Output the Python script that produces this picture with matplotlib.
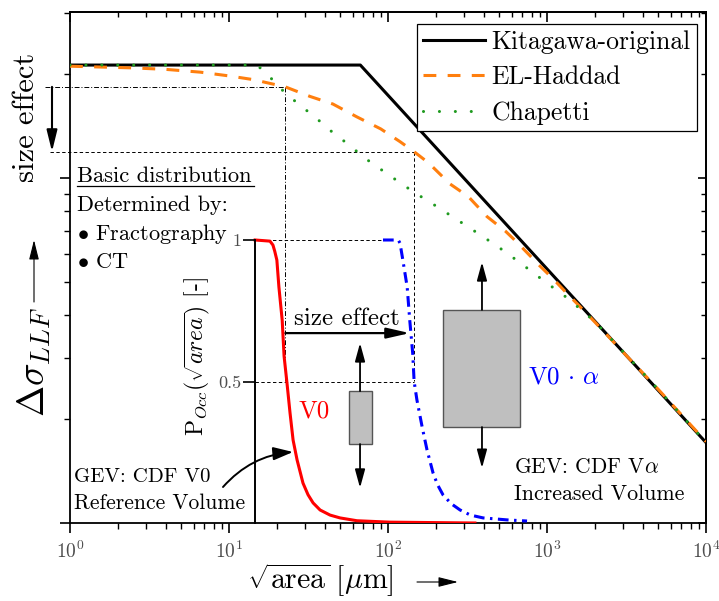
import matplotlib
matplotlib.use('Agg')
import matplotlib.pyplot as plt
from matplotlib.patches import Rectangle
from matplotlib.lines import Line2D
from matplotlib.ticker import NullFormatter

plt.rcParams['font.family'] = ['cmr10', 'DejaVu Serif']
plt.rcParams['mathtext.fontset'] = 'cm'
plt.rcParams['axes.formatter.use_mathtext'] = True
plt.rcParams['axes.unicode_minus'] = False

# Kitagawa-Takahashi diagram
x_kita = [1, 67, 10000]
y_kita = [2120, 2120, 171]

x_elh = [1, 2.5, 4, 6.6, 10, 14.2, 22.6, 32.3, 45, 63.8, 90, 119, 145, 180, 245, 320, 419,
         550, 648, 903, 1100, 1355, 1600, 2000, 3000, 5000, 10000]
y_elh = [2104, 2080, 2060, 2022, 1972, 1924, 1833, 1720, 1635, 1500, 1385, 1272, 1192, 1104,
         960, 882, 772, 699, 650, 555, 508, 459, 425, 382, 313, 244, 172]

x_chap = [1, 15, 17.6, 20.9, 24.2, 28.8, 34.7, 40.7, 48.5, 59.4, 66.7, 98.6, 144, 203, 284,
          396, 544, 728, 971, 1355, 2000, 3000, 5000, 10000]
y_chap = [2120, 2120, 1985, 1820, 1714, 1603, 1501, 1404, 1314, 1229, 1166, 1027, 911, 825, 746,
          675, 611, 553, 500, 447, 383, 314, 244, 171]

# probability of occurrence, reference volume V0 and increased volume V0*alpha
x_v0 = [14.6, 18.1, 18.9, 19.4, 20.0, 20.6, 21.6, 22.2, 23.2, 24.2, 25.3, 26.8, 29.2, 31.4,
        33.8, 37.4, 43.2, 49.9, 63.8, 103, 352]
p_v0 = [1, 0.996, 0.982, 0.96, 0.929, 0.834, 0.717, 0.59, 0.49, 0.389, 0.293, 0.223, 0.141,
        0.10, 0.071, 0.046, 0.028, 0.018, 0.008, 0.003, 0.0]

x_va = [93, 116, 119, 124, 132, 137, 143, 146, 152, 164, 176, 192, 205, 222, 250, 284, 330,
        396, 560, 749]
p_va = [1, 1, 0.989, 0.929, 0.834, 0.717, 0.60, 0.50, 0.435, 0.339, 0.258, 0.177, 0.135,
        0.099, 0.068, 0.046, 0.028, 0.018, 0.011, 0.007]

# schematic box plots: [left, centre, right], [whisker low, q1, q3, whisker high]
box_x = [[56.8, 66.7, 79.3], [222, 390, 677]]
box_p = [[0.124, 0.279, 0.466, 0.636], [0.194, 0.339, 0.753, 0.922]]

# reference points on the EL-Haddad curve (V0 and V0*alpha)
guide_x = [22.6, 145]
guide_y = [1833, 1190]
size_effect_p = 0.671

W, H = 719, 601


def fp(x, y):
    return x / W, 1 - y / H


fig = plt.figure(figsize=(7.19, 6.01), dpi=100)
ax = fig.add_axes([70 / W, 1 - 523 / H, 636 / W, 511 / H])
ax.set_xscale('log')
ax.set_yscale('log')
ax.set_xlim(1, 1e4)
ax.set_ylim(100, 3020)

l_kita, = ax.plot(x_kita, y_kita, color='k', lw=2.2, zorder=3)
l_elh, = ax.plot(x_elh, y_elh, color='#ff7f0e', lw=2.2, dashes=(4.2, 3.7), zorder=4)
l_chap, = ax.plot(x_chap, y_chap, color='#1f9a1f', lw=2.2, dashes=(0.01, 5.2),
                  dash_capstyle='round', zorder=5)

ax.legend([l_kita, l_elh, l_chap], ['Kitagawa-original', 'EL-Haddad', 'Chapetti'],
          loc='upper right', bbox_to_anchor=(0.986, 0.9765), borderaxespad=0,
          fontsize=18.5, handlelength=2.4, handletextpad=0.25, labelspacing=0.45,
          borderpad=0.25, fancybox=False, framealpha=1, edgecolor='k')
ax.get_legend().get_frame().set_linewidth(0.9)

for s in ax.spines.values():
    s.set_linewidth(1.3)
ax.tick_params(which='major', length=7, width=1.2, direction='out', labelsize=14,
               pad=6, labelcolor='0.3')
ax.tick_params(which='minor', length=4.5, width=1.0, direction='out')
ax.yaxis.set_major_formatter(NullFormatter())
ax.yaxis.set_minor_formatter(NullFormatter())

secx = ax.secondary_xaxis('top')
secx.tick_params(which='major', direction='in', length=7, width=1.2, labeltop=False)
secx.tick_params(which='minor', direction='in', length=3.5, width=1.0)
secy = ax.secondary_yaxis('right')
secy.tick_params(which='major', direction='in', length=6, width=1.2, labelright=False)
secy.tick_params(which='minor', direction='in', length=3.5, width=1.0)
for sa in (secx, secy):
    for s in sa.spines.values():
        s.set_linewidth(1.3)

# overlay axes for the probability curves
ax2 = fig.add_axes(ax.get_position().bounds, sharex=ax, label='cdf')
ax2.set_ylim(0, 511 / 283)
ax2.set_axis_off()

ax2.plot(x_v0, p_v0, color='red', lw=2.2, zorder=4)
ax2.plot(x_va, p_va, color='blue', lw=2.2, dashes=(3.5, 1.8, 0.8, 1.8), zorder=4)

guide_kw = dict(color='k', lw=0.7, zorder=1)
ax2.plot([x_v0[0], x_va[0]], [1, 1], dashes=(3.5, 2.5), **guide_kw)
ax2.plot([x_v0[0], guide_x[1]], [0.5, 0.5], dashes=(3.5, 2.5), **guide_kw)


def p_to_y(p):
    return ax.transData.inverted().transform(ax2.transData.transform((1, p)))[1]


def fx_to_x(f):
    return ax.transData.inverted().transform(ax.transAxes.transform((f, 0)))[0]


y_half = p_to_y(0.5)
ax.plot([fx_to_x(-25 / 636), guide_x[0]], [guide_y[0]] * 2, dashes=(5, 2, 1, 2),
        clip_on=False, **guide_kw)
ax.plot([guide_x[0]] * 2, [guide_y[0], y_half], dashes=(5, 2, 1, 2), **guide_kw)
ax.plot([fx_to_x(-20 / 636), guide_x[1]], [guide_y[1]] * 2, dashes=(3.5, 2.5),
        clip_on=False, **guide_kw)
ax.plot([guide_x[1]] * 2, [guide_y[1], y_half], dashes=(3.5, 2.5), **guide_kw)

x_arr = fx_to_x(-18 / 636)
ax.annotate('', xy=(x_arr, guide_y[1]), xytext=(x_arr, guide_y[0]), annotation_clip=False,
            arrowprops=dict(arrowstyle='-|>,head_length=0.65,head_width=0.16', color='k',
                            lw=1.5, mutation_scale=20, shrinkA=0, shrinkB=0))

# box plots
for bx, bp in zip(box_x, box_p):
    ax2.add_patch(Rectangle((bx[0], bp[1]), bx[2] - bx[0], bp[2] - bp[1],
                            facecolor='#bfbfbf', edgecolor='#555555', lw=1, zorder=3))
    for a, b in [(bp[2], bp[3]), (bp[1], bp[0])]:
        ax2.annotate('', xy=(bx[1], b), xytext=(bx[1], a),
                     arrowprops=dict(arrowstyle='-|>,head_length=0.55,head_width=0.15',
                                     color='k', lw=1.3, mutation_scale=20,
                                     shrinkA=0, shrinkB=0))

# size effect arrow between the two distributions
ax2.annotate('', xy=(137, size_effect_p), xytext=(guide_x[0], size_effect_p),
             arrowprops=dict(arrowstyle='-|>,head_length=0.7,head_width=0.16', color='k',
                             lw=1.6, mutation_scale=20, shrinkA=0, shrinkB=0))

# probability axis
ax3 = fig.add_axes([255 / W, 1 - 523 / H, 0.0001, 283 / H], label='paxis')
ax3.set_ylim(0, 1)
ax3.patch.set_visible(False)
for k in ['top', 'right', 'bottom']:
    ax3.spines[k].set_visible(False)
ax3.spines['left'].set_linewidth(1.4)
ax3.set_xticks([])
ax3.set_yticks([0.5, 1], ['0.5', '1'])
ax3.tick_params(axis='y', length=9, width=1.2, direction='out', labelsize=13, pad=1,
                labelcolor='0.3')

# texts
fig.text(*fp(26, 117), 'size effect', rotation=90, ha='center', va='center', fontsize=22)
fig.text(*fp(34, 362), r'$\Delta\sigma_{LLF}$', rotation=90, ha='center', va='center',
         fontsize=27)
fig.text(*fp(320, 589), r'$\sqrt{\mathrm{area}}\;[\mu\mathrm{m}]$', ha='center',
         va='baseline', fontsize=21.5)
arrow_kw = dict(arrowstyle='-|>,head_length=0.6,head_width=0.15', color='k', lw=0.8,
                mutation_scale=20, shrinkA=0, shrinkB=0)
fig.add_artist(plt.Annotation('', xy=fp(34, 240), xytext=fp(34, 302),
                              xycoords='figure fraction', arrowprops=arrow_kw))
fig.add_artist(plt.Annotation('', xy=fp(458, 582), xytext=fp(417, 582),
                              xycoords='figure fraction', arrowprops=arrow_kw))

fig.text(*fp(77, 182), 'Basic distribution', ha='left', va='baseline', fontsize=16.2)
fig.add_artist(Line2D([77 / W, 254 / W], [1 - 186 / H] * 2, color='k', lw=0.9))
fig.text(*fp(77, 211), 'Determined by:', ha='left', va='baseline', fontsize=16)
fig.text(*fp(77, 240), r'$\bullet$ Fractography', ha='left', va='baseline', fontsize=16)
fig.text(*fp(77, 268), r'$\bullet$ CT', ha='left', va='baseline', fontsize=16)

fig.text(*fp(74, 482), 'GEV: CDF V0', ha='left', va='baseline', fontsize=15)
fig.text(*fp(74, 509), 'Reference Volume', ha='left', va='baseline', fontsize=15.5)
fig.text(*fp(514, 473), r'GEV: CDF V$\alpha$', ha='left', va='baseline', fontsize=15.5)
fig.text(*fp(514, 500), 'Increased Volume', ha='left', va='baseline', fontsize=15.8)

fig.text(*fp(314, 411), 'V0', color='red', ha='center', va='center', fontsize=18)
fig.text(*fp(528, 383), r'V0$\,\cdot\,\alpha$', color='blue', ha='left', va='baseline',
         fontsize=18)
fig.text(*fp(347, 325), 'size effect', ha='center', va='baseline', fontsize=18)
fig.text(*fp(197, 357), r'P$_{Occ}(\sqrt{area})$ [-]', rotation=90, ha='center',
         va='center', fontsize=17)

fig.add_artist(plt.Annotation('', xy=fp(293, 452), xytext=fp(223, 487),
                              xycoords='figure fraction',
                              arrowprops=dict(arrowstyle='-|>,head_length=0.6,head_width=0.2',
                                              connectionstyle='arc3,rad=-0.2', color='k',
                                              lw=1.4, mutation_scale=20, shrinkA=0,
                                              shrinkB=0)))

fig.savefig('out.png', dpi=100)
